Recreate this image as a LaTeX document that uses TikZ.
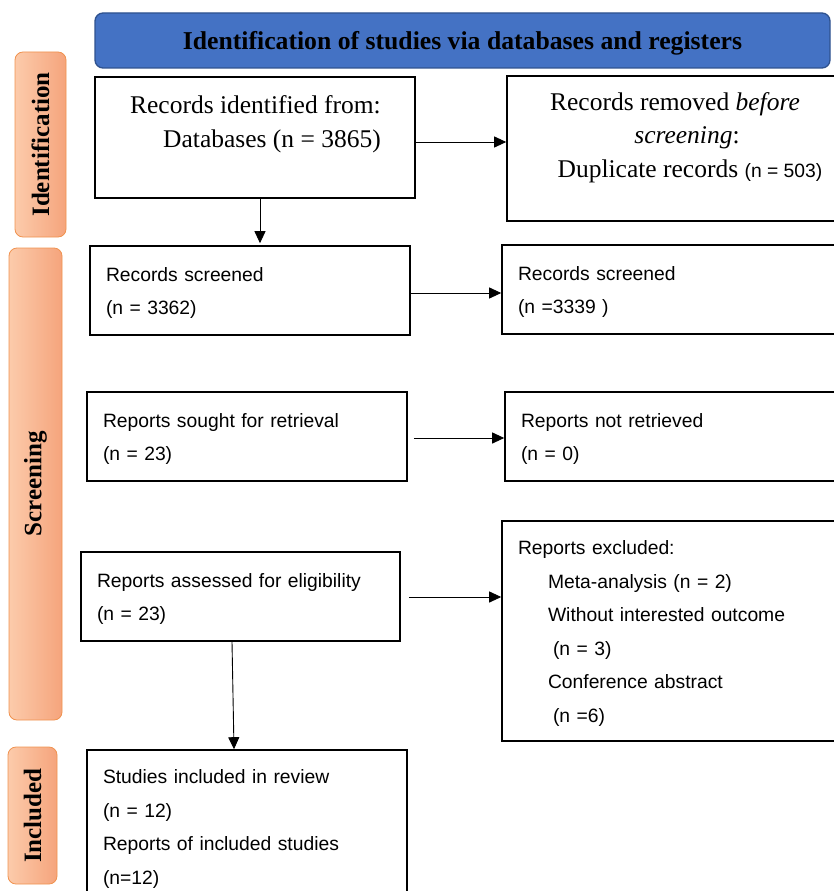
\documentclass[tikz,border=0pt]{standalone}
\usepackage{fontspec}
\usepackage{graphicx}
\setmainfont{Liberation Serif}
\setsansfont{Liberation Sans}
\usetikzlibrary{arrows.meta}
\definecolor{bannerfill}{HTML}{4472C4}
\definecolor{bannerline}{HTML}{2F528F}
\definecolor{sideleft}{HTML}{FCCBAB}
\definecolor{sideright}{HTML}{F5A47C}
\definecolor{sideline}{HTML}{F0924F}
\newcommand{\firstl}{\rule{0pt}{19pt}}
\begin{document}
\begin{tikzpicture}[x=1pt,y=-1pt,
  banner/.style={draw=bannerline, fill=bannerfill, line width=1.3pt, rounded corners=8pt,
    inner sep=0pt, font=\bfseries\fontsize{25.7}{30}\selectfont},
  side/.style={draw=sideline, line width=0.8pt, rounded corners=8pt, left color=sideleft,
    right color=sideright, inner sep=0pt, font=\bfseries\fontsize{25}{30}\selectfont},
  box/.style={draw=black, line width=1.6pt, rectangle, inner sep=0pt},
  sbox/.style={box, font=\sffamily\fontsize{19.3}{33.5}\selectfont, align=left, inner xsep=16pt},
  serif/.style={inner sep=0pt, font=\fontsize{25.5}{30}\selectfont},
  arr/.style={-{Triangle[length=12pt,width=11pt]}, line width=0.9pt, draw=black}]
\useasboundingbox (0,0) rectangle (834,891);
\clip (0,0) rectangle (834,891);

% banner
\node[banner, minimum width=735pt, minimum height=55pt] (banner) at (462.5,40.5)
  {\rule{0pt}{24pt}Identification of studies via databases and registers};

% side labels
\node[side, minimum width=51pt, minimum height=185pt] (sideid) at (40.5,144.5)
  {\rotatebox{90}{Identification}};
\node[side, minimum width=53pt, minimum height=472pt] (sidescr) at (35.5,484)
  {\rotatebox{90}{Screening}};
\node[side, minimum width=49pt, minimum height=137pt] (sideinc) at (32.5,815.5)
  {\rotatebox{90}{Included}};

% identification boxes
\node[box, minimum width=320pt, minimum height=121pt] (b1) at (255,137.5) {};
\node[serif, anchor=base east] (b1a) at (381,113) {Records identified from:};
\node[serif, anchor=base east] (b1b) at (381,147) {Databases (n = 3865)};

\node[box, minimum width=343pt, minimum height=145pt] (b2) at (678.5,148.5) {};
\node[serif, anchor=base] (b2a) at (675,110) {Records removed \textit{before}};
\node[serif, anchor=base] (b2b) at (687,143) {\textit{screening}:};
\node[serif, anchor=base] (b2c) at (690,177)
  {Duplicate records {\sffamily\fontsize{19.3}{22}\selectfont(n = 503)}};

% screening boxes
\node[sbox, minimum width=320pt, minimum height=89pt, text width=288pt] (b3) at (250,290.5)
  {\firstl Records screened\\(n = 3362)};
\node[sbox, minimum width=348pt, minimum height=89pt, text width=316pt] (b4) at (676,289.5)
  {\firstl Records screened\\(n =3339 )};
\node[sbox, minimum width=320pt, minimum height=89pt, text width=288pt] (b5) at (247,436.5)
  {\firstl Reports sought for retrieval\\(n = 23)};
\node[sbox, minimum width=345pt, minimum height=89pt, text width=313pt] (b6) at (677.5,436.5)
  {\firstl Reports not retrieved\\(n = 0)};
\node[sbox, minimum width=319pt, minimum height=89pt, text width=287pt] (b7) at (240.5,596.5)
  {\firstl Reports assessed for eligibility\\(n = 23)};
\node[sbox, minimum width=348pt, minimum height=220pt, text width=316pt] (b8) at (676,631)
  {\firstl Reports excluded:\\
   \hspace*{30pt}Meta-analysis (n = 2)\\
   \hspace*{30pt}Without interested outcome\\
   \hspace*{35pt}(n = 3)\\
   \hspace*{30pt}Conference abstract\\
   \hspace*{35pt}(n =6)};

% included
\node[sbox, minimum width=320pt, minimum height=153pt, text width=288pt] (b9) at (247,826.5)
  {\firstl Studies included in review\\(n = 12)\\Reports of included studies\\(n=12)};

% arrows
\draw[arr] ([yshift=-4.5pt]b1.east) -- ([yshift=-4.5pt]b1.east -| b2.west);
\draw[arr] ([xshift=5pt]b1.south) -- ([xshift=10pt,yshift=2pt]b3.north);
\draw[arr] ([yshift=-2.5pt]b3.east) -- ([yshift=-2.5pt]b3.east -| b4.west);
\draw[arr] ([xshift=6pt,yshift=-1.5pt]b5.east) -- ([yshift=-1.5pt]b5.east -| b6.west);
\draw[arr] ([xshift=8pt,yshift=-0.5pt]b7.east) -- ([yshift=-0.5pt]b7.east -| b8.west);
\draw[arr] ([xshift=-8.5pt]b7.south) -- ([xshift=-13pt]b9.north);
\end{tikzpicture}
\end{document}
